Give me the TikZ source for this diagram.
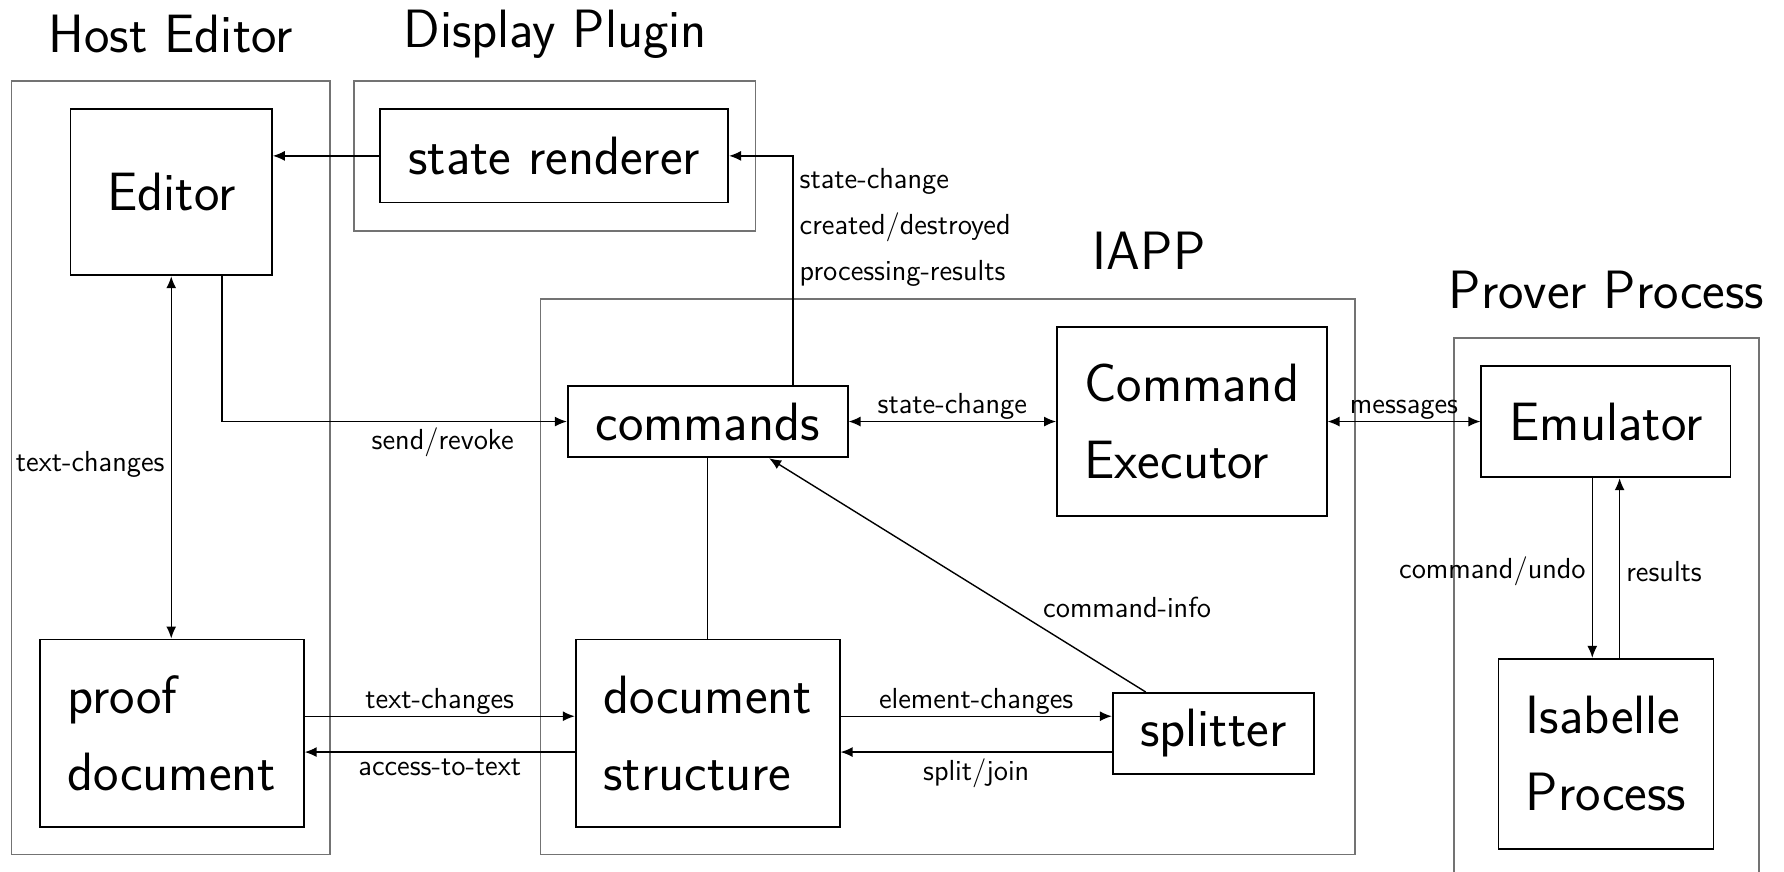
\documentclass[tikz,border=0pt]{standalone}
\usepackage{tikz}
\usetikzlibrary{%
  arrows.meta,%
  calc,%
  positioning% wg. " of "
}

\begin{document}
\begin{tikzpicture}[>={Latex[length=6pt,width=5pt]}, line width=0.7pt]
       \tikzset{component/.style={rectangle, draw, line width=0.9pt, align=left, inner sep=0pt,
                font=\sffamily\fontsize{27}{38.5}\selectfont}}

       \tikzset{frame/.style={draw=black!55, line width=0.8pt}}

       \tikzset{title/.style={font=\sffamily\fontsize{27}{32}\selectfont}}

       \tikzset{msg/.style={font=\sffamily\fontsize{14.5}{23}\selectfont, inner sep=3pt}}

        \useasboundingbox (0,0) rectangle (31.36,-15.32);

        % groups
        \draw[frame] (0.2,-1.42) rectangle (5.8,-15.02);
        \draw[frame] (6.22,-1.42) rectangle (13.28,-4.06);
        \draw[frame] (9.5,-5.26) rectangle (23.82,-15.02);
        \draw[frame] (25.56,-5.94) rectangle (30.92,-16);

        \node[title] (hosttitle) at (3.0,-0.6) {Host Editor};
        \node[title] (plugintitle) at (9.76,-0.6) {Display Plugin};
        \node[title] (iapptitle) at (20.2,-4.4) {IAPP};
        \node[title] (provertitle) at (28.24,-5.1) {Prover Process};

        \node[component, minimum width=3.54cm, minimum height=2.92cm] (editor) at (3.01,-3.38) {Editor};
        \node[component, minimum width=6.12cm, minimum height=1.64cm] (renderer) at (9.74,-2.74) {state renderer};
        \node[component, minimum width=4.92cm, minimum height=1.26cm] (commands) at (12.44,-7.41) {commands};
        \node[component, minimum width=4.74cm, minimum height=3.32cm] (executor) at (20.95,-7.41) {Command\\Executor};
        \node[component, minimum width=4.38cm, minimum height=1.96cm] (emulator) at (28.23,-7.41) {Emulator};
        \node[component, minimum width=3.78cm, minimum height=3.34cm] (isabelle) at (28.23,-13.25) {Isabelle\\Process};
        \node[component, minimum width=4.64cm, minimum height=3.3cm] (proof) at (3.02,-12.89) {proof\\document};
        \node[component, minimum width=4.64cm, minimum height=3.3cm] (docstruct) at (12.44,-12.89) {document\\structure};
        \node[component, minimum width=3.54cm, minimum height=1.42cm] (splitter) at (21.33,-12.89) {splitter};

        \draw[->] (renderer.west) -- (renderer.west -| editor.east);
        \draw[->] ([xshift=1.5cm]commands.north) |- node[msg, right, align=left, pos=0.343] {state-change\\created/destroyed\\processing-results} (renderer.east);
        \draw[->] ([xshift=0.89cm]editor.south) |- node[msg, below, pos=0.82] {send/revoke} (commands.west);
        \draw[<->] (editor.south) -- node[msg, left, pos=0.52] {text-changes} (editor.south |- proof.north);
        \draw[<->] (commands) -- node[msg, above=-2.5pt] {state-change} (executor);
        \draw[<->] (executor) -- node[msg, above=-2.5pt] {messages} (emulator);
        \draw (commands) -- (docstruct);
        \draw[->] ([xshift=-1.19cm]splitter.north) -- node[msg, pos=0.29, above right] {command-info} ([xshift=1.08cm]commands.south);
        \draw[->] ([yshift=0.3cm]docstruct.east) -- node[msg, above=-2.5pt] {element-changes} ([yshift=0.3cm]splitter.west);
        \draw[->] ([yshift=-0.33cm]splitter.west) -- node[msg, below] {split/join} ([yshift=-0.33cm]docstruct.east);
        \draw[->] ([yshift=0.3cm]proof.east) -- node[msg, above=-2.5pt] {text-changes} ([yshift=0.3cm]docstruct.west);
        \draw[->] ([yshift=-0.33cm]docstruct.west) -- node[msg, below] {access-to-text} ([yshift=-0.33cm]proof.east);
        \draw[->] ([xshift=-0.24cm]emulator.south) -- node[msg, left, pos=0.52] {command/undo} ([xshift=-0.24cm]isabelle.north);
        \draw[->] ([xshift=0.24cm]isabelle.north) -- node[msg, right, pos=0.48] {results} ([xshift=0.24cm]emulator.south);

   \end{tikzpicture}
\end{document}
